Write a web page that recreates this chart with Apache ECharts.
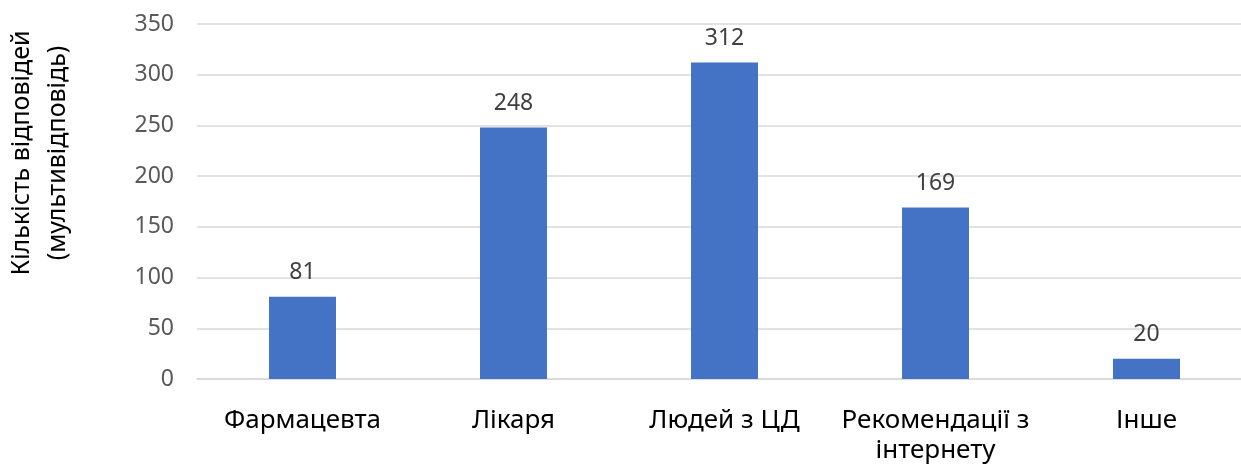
<!DOCTYPE html>
<html>
<head>
<meta charset="utf-8">
<script src="https://cdn.jsdelivr.net/npm/echarts@6/dist/echarts.min.js"></script>
<style>
  html, body { margin: 0; padding: 0; background: #fff; }
  #chart { width: 1241px; height: 465px; }
</style>
</head>
<body>
<div id="chart"></div>
<script>
// Джерела рекомендацій (кількість відповідей, допускалось кілька варіантів)
const categories = ['Фармацевта', 'Лікаря', 'Людей з ЦД', 'Рекомендації з\nінтернету', 'Інше'];
const answers = [81, 248, 312, 169, 20];
const yTicks = [0, 50, 100, 150, 200, 250, 300, 350];
const yTitle = ['Кількість відповідей', '(мультивідповідь)'];

const FONT = '"Noto Sans", "Open Sans", sans-serif';

const chart = echarts.init(document.getElementById('chart'), null, { renderer: 'canvas' });

chart.setOption({
  animation: false,
  backgroundColor: '#ffffff',
  // the plot runs slightly past the right edge of the canvas
  grid: {
    left: 197, width: 1055, top: 24, bottom: 86,
    containLabel: false,
    outerBoundsMode: 'none'
  },
  xAxis: {
    type: 'category',
    data: categories,
    axisLine: { show: true, lineStyle: { color: '#D9D9D9', width: 1.5 } },
    axisTick: { show: false },
    axisLabel: {
      interval: 0,
      margin: 27,
      color: '#000000',
      fontFamily: FONT,
      fontSize: 26,
      lineHeight: 30
    }
  },
  yAxis: {
    type: 'value',
    min: yTicks[0],
    max: yTicks[yTicks.length - 1],
    interval: yTicks[1] - yTicks[0],
    axisLine: { show: false },
    axisTick: { show: false },
    splitLine: { lineStyle: { color: '#D9D9D9', width: 1.5 } },
    axisLabel: {
      margin: 23,
      color: '#595959',
      fontFamily: FONT,
      fontSize: 23
    }
  },
  series: [{
    type: 'bar',
    data: answers,
    barWidth: 67,
    itemStyle: { color: '#4472C4' },
    label: {
      show: true,
      position: 'top',
      distance: 13,
      color: '#404040',
      fontFamily: FONT,
      fontSize: 23,
      lineHeight: 23
    }
  }],
  graphic: [{
    type: 'text',
    x: 40,
    y: 153,
    rotation: Math.PI / 2,
    style: {
      text: yTitle.join('\n'),
      align: 'center',
      verticalAlign: 'middle',
      font: '25px ' + FONT,
      lineHeight: 36,
      fill: '#000000'
    }
  }]
});
</script>
</body>
</html>
